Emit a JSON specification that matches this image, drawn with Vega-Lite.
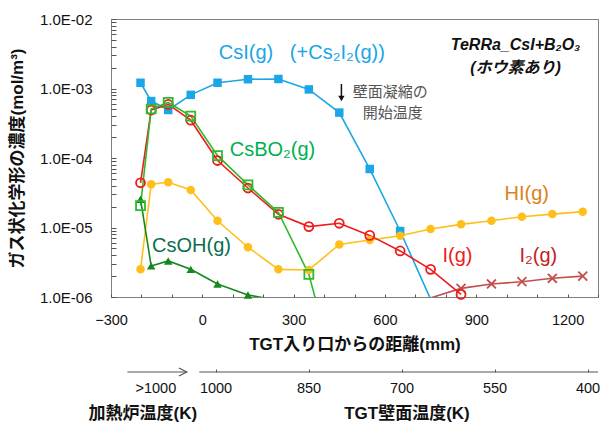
{
  "$schema": "https://vega.github.io/schema/vega-lite/v6.json",
  "padding": {"left": 7, "top": 11, "right": 5, "bottom": 0},
  "spacing": 12,
  "background": "white",
  "config": {
    "view": {"stroke": null},
    "font": "Liberation Sans, Noto Sans CJK JP, sans-serif",
    "axis": {"labelFont": "Liberation Sans, Noto Sans CJK JP, sans-serif", "titleFont": "Liberation Sans, Noto Sans CJK JP, sans-serif", "labelColor": "#111", "titleColor": "#111", "labelOverlap": false, "labelFlush": false, "grid": false}
  },
  "datasets": {
    "series": [
      {"s": "CsI", "x": -203, "v": 1.21e-3}, {"s": "CsI", "x": -168, "v": 6.6e-4}, {"s": "CsI", "x": -112, "v": 4.9e-4}, {"s": "CsI", "x": -38, "v": 8.1e-4},
      {"s": "CsI", "x": 50, "v": 1.21e-3}, {"s": "CsI", "x": 150, "v": 1.36e-3}, {"s": "CsI", "x": 250, "v": 1.37e-3}, {"s": "CsI", "x": 350, "v": 9.7e-4},
      {"s": "CsI", "x": 450, "v": 4.5e-4}, {"s": "CsI", "x": 550, "v": 6.95e-5}, {"s": "CsI", "x": 650, "v": 8.9e-6}, {"s": "CsI", "x": 750, "v": 9.3e-7},
      {"s": "HI", "x": -203, "v": 2.5e-6}, {"s": "HI", "x": -168, "v": 4.2e-5}, {"s": "HI", "x": -112, "v": 4.47e-5}, {"s": "HI", "x": -38, "v": 3.47e-5},
      {"s": "HI", "x": 50, "v": 1.25e-5}, {"s": "HI", "x": 150, "v": 5.2e-6}, {"s": "HI", "x": 250, "v": 2.5e-6}, {"s": "HI", "x": 350, "v": 2.45e-6},
      {"s": "HI", "x": 450, "v": 5.7e-6}, {"s": "HI", "x": 550, "v": 6.6e-6}, {"s": "HI", "x": 650, "v": 7.6e-6}, {"s": "HI", "x": 750, "v": 9.5e-6},
      {"s": "HI", "x": 850, "v": 1.11e-5}, {"s": "HI", "x": 950, "v": 1.25e-5}, {"s": "HI", "x": 1050, "v": 1.43e-5}, {"s": "HI", "x": 1150, "v": 1.56e-5}, {"s": "HI", "x": 1250, "v": 1.69e-5},
      {"s": "CsOH", "x": -203, "v": 2.55e-5}, {"s": "CsOH", "x": -168, "v": 2.8e-6}, {"s": "CsOH", "x": -112, "v": 3.3e-6}, {"s": "CsOH", "x": -38, "v": 2.5e-6},
      {"s": "CsOH", "x": 50, "v": 1.54e-6}, {"s": "CsOH", "x": 150, "v": 1.07e-6}, {"s": "CsOH", "x": 250, "v": 8.9e-7},
      {"s": "I2", "x": 750, "v": 9.7e-7}, {"s": "I2", "x": 850, "v": 1.33e-6}, {"s": "I2", "x": 950, "v": 1.54e-6}, {"s": "I2", "x": 1050, "v": 1.66e-6},
      {"s": "I2", "x": 1150, "v": 1.86e-6}, {"s": "I2", "x": 1250, "v": 2.0e-6},
      {"s": "I", "x": -203, "v": 4.4e-5}, {"s": "I", "x": -168, "v": 4.9e-4}, {"s": "I", "x": -112, "v": 5.9e-4}, {"s": "I", "x": -38, "v": 3.5e-4},
      {"s": "I", "x": 50, "v": 9.2e-5}, {"s": "I", "x": 150, "v": 3.7e-5}, {"s": "I", "x": 250, "v": 1.55e-5}, {"s": "I", "x": 350, "v": 1.03e-5},
      {"s": "I", "x": 450, "v": 1.15e-5}, {"s": "I", "x": 550, "v": 7.7e-6}, {"s": "I", "x": 650, "v": 4.6e-6}, {"s": "I", "x": 750, "v": 2.5e-6}, {"s": "I", "x": 850, "v": 1.09e-6},
      {"s": "CsBO2", "x": -203, "v": 2.06e-5}, {"s": "CsBO2", "x": -168, "v": 5.07e-4}, {"s": "CsBO2", "x": -112, "v": 6.3e-4}, {"s": "CsBO2", "x": -38, "v": 4.0e-4},
      {"s": "CsBO2", "x": 50, "v": 1.08e-4}, {"s": "CsBO2", "x": 150, "v": 4.1e-5}, {"s": "CsBO2", "x": 250, "v": 1.65e-5}, {"s": "CsBO2", "x": 350, "v": 2.12e-6},
      {"s": "CsBO2", "x": 450, "v": 5e-8}
    ],
    "labels": [
      {"x": 54, "v": 3.24e-3, "t": "CsI(g)\u00a0\u00a0\u00a0(+Cs₂I₂(g))", "s": "CsI"},
      {"x": 90, "v": 1.3e-4, "t": "CsBO₂(g)", "s": "CsBO2"},
      {"x": -165, "v": 5.42e-6, "t": "CsOH(g)", "s": "CsOH"},
      {"x": 993, "v": 3.03e-5, "t": "HI(g)", "s": "HI"},
      {"x": 789, "v": 3.89e-6, "t": "I(g)", "s": "I"},
      {"x": 1042, "v": 3.89e-6, "t": "I₂(g)", "s": "I2"}
    ],
    "notes": [
      {"x": 1029, "v": 4.23e-3, "t": "TeRRa_CsI+B₂O₃"},
      {"x": 1029, "v": 1.97e-3, "t": "(ホウ素あり)"}
    ],
    "wall": [
      {"x": 494, "v": 8.9e-4, "t": "壁面凝縮の"},
      {"x": 527, "v": 4.43e-4, "t": "開始温度"}
    ]
  },
  "vconcat": [
    {
      "width": 487,
      "height": 278,
      "view": {"stroke": "#808080"},
      "encoding": {
        "x": {"field": "x", "type": "quantitative",
          "scale": {"domain": [-300, 1300], "nice": false, "zero": false},
          "axis": {"values": [-300, -200, -100, 0, 100, 200, 300, 400, 500, 600, 700, 800, 900, 1000, 1100, 1200, 1300],
            "format": "d", "labelExpr": "datum.value % 300 == 0 ? datum.label : ''",
            "labelFlush": false, "labelOverlap": false, "grid": false,
            "domain": false, "offset": -3, "tickSize": 3, "tickColor": "#555",
            "labelFontSize": 14.5, "labelPadding": 16,
            "title": "TGT入り口からの距離(mm)", "titleFontSize": 17, "titleFontWeight": "bold", "titlePadding": 10}},
        "y": {"field": "v", "type": "quantitative",
          "scale": {"type": "log", "domain": [1e-6, 1e-2], "nice": false},
          "axis": {"values": [1e-6, 2e-6, 3e-6, 4e-6, 5e-6, 6e-6, 7e-6, 8e-6, 9e-6, 1e-5, 2e-5, 3e-5, 4e-5, 5e-5, 6e-5, 7e-5, 8e-5, 9e-5, 1e-4, 2e-4, 3e-4, 4e-4, 5e-4, 6e-4, 7e-4, 8e-4, 9e-4, 1e-3, 2e-3, 3e-3, 4e-3, 5e-3, 6e-3, 7e-3, 8e-3, 9e-3, 1e-2],
            "labelExpr": "abs(log(datum.value)/LN10 - round(log(datum.value)/LN10)) < 0.01 ? '1.0E-0' + (-round(log(datum.value)/LN10)) : ''",
            "labelOverlap": false, "labelFlush": false, "grid": false,
            "domain": false, "offset": -5, "tickSize": 5, "tickColor": "#555",
            "labelFontSize": 15, "labelPadding": 19,
            "title": "ガス状化学形の濃度(mol/m³)", "titleFontSize": 17, "titleFontWeight": "bold", "titlePadding": 13}}
      },
      "layer": [
        {"data": {"name": "series"},
          "mark": {"type": "line", "clip": true, "strokeWidth": 1.6},
          "encoding": {
            "color": {"field": "s", "type": "nominal", "legend": null,
              "scale": {"domain": ["CsI", "HI", "CsOH", "I2", "I", "CsBO2"], "range": ["#1ba6e6", "#ffbf1a", "#14881c", "#c0504d", "#ee1c1c", "#2cbb2c"]}}}},
        {"data": {"name": "series"},
          "transform": [{"filter": "datum.v >= 1e-6 && (datum.s == 'CsI' || datum.s == 'HI' || datum.s == 'CsOH')"}],
          "mark": {"type": "point", "filled": true, "opacity": 1, "size": 72},
          "encoding": {
            "color": {"field": "s", "type": "nominal", "legend": null,
              "scale": {"domain": ["CsI", "HI", "CsOH", "I2", "I", "CsBO2"], "range": ["#1ba6e6", "#ffbf1a", "#14881c", "#c0504d", "#ee1c1c", "#2cbb2c"]}},
            "shape": {"field": "s", "type": "nominal", "legend": null,
              "scale": {"domain": ["CsI", "HI", "CsOH", "I2", "I", "CsBO2"], "range": ["square", "circle", "triangle-up", "M-1,-1L1,1M-1,1L1,-1", "circle", "square"]}}}},
        {"data": {"name": "series"},
          "transform": [{"filter": "datum.v >= 1e-6 && (datum.s == 'I2' || datum.s == 'I' || datum.s == 'CsBO2')"}],
          "mark": {"type": "point", "filled": false, "opacity": 1, "size": 80, "strokeWidth": 1.8},
          "encoding": {
            "color": {"field": "s", "type": "nominal", "legend": null,
              "scale": {"domain": ["CsI", "HI", "CsOH", "I2", "I", "CsBO2"], "range": ["#1ba6e6", "#ffbf1a", "#14881c", "#c0504d", "#ee1c1c", "#2cbb2c"]}},
            "shape": {"field": "s", "type": "nominal", "legend": null,
              "scale": {"domain": ["CsI", "HI", "CsOH", "I2", "I", "CsBO2"], "range": ["square", "circle", "triangle-up", "M-1,-1L1,1M-1,1L1,-1", "circle", "square"]}}}},
        {"data": {"name": "labels"},
          "mark": {"type": "text", "align": "left", "baseline": "middle", "fontSize": 20},
          "encoding": {
            "text": {"field": "t"},
            "color": {"field": "s", "type": "nominal", "legend": null,
              "scale": {"domain": ["CsI", "HI", "CsOH", "I2", "I", "CsBO2"], "range": ["#1ba6e6", "#d98517", "#0b6e50", "#c41e1e", "#ee1c1c", "#00b050"]}}}},
        {"data": {"name": "notes"},
          "mark": {"type": "text", "align": "center", "baseline": "middle", "fontSize": 16, "fontWeight": "bold", "fontStyle": "italic", "color": "#111"},
          "encoding": {"text": {"field": "t"}}},
        {"data": {"name": "wall"},
          "mark": {"type": "text", "align": "left", "baseline": "middle", "fontSize": 15, "color": "#555"},
          "encoding": {"text": {"field": "t"}}},
        {"data": {"values": [{"x": 457, "v": 1.16e-3, "v2": 7.6e-4}]},
          "mark": {"type": "rule", "color": "#111", "strokeWidth": 1.5},
          "encoding": {"y2": {"field": "v2"}}},
        {"data": {"values": [{"x": 457, "v": 7.2e-4}]},
          "mark": {"type": "point", "shape": "triangle-down", "filled": true, "opacity": 1, "color": "#111", "size": 40},
          "encoding": {}}
      ],
      "resolve": {"scale": {"color": "independent"}}
    },
    {
      "width": 487,
      "height": 42,
      "view": {"stroke": null},
      "data": {"values": [{"T": 1000}, {"T": 850}, {"T": 700}, {"T": 550}, {"T": 400}]},
      "layer": [
        {"mark": {"type": "text", "fontSize": 14.5, "baseline": "middle", "color": "#111"},
          "encoding": {
            "x": {"field": "T", "type": "quantitative",
              "scale": {"domain": [383.9, 1169.4], "reverse": true, "nice": false, "zero": false},
              "axis": {"orient": "top", "values": [1000, 850, 700, 550, 400], "labels": false, "domain": false, "grid": false, "ticks": true, "tickSize": 3, "tickColor": "#555", "title": null}},
            "y": {"datum": 0.6, "type": "quantitative", "scale": {"domain": [0, 1], "nice": false, "zero": false}, "axis": null},
            "text": {"field": "T", "type": "quantitative", "format": "d"}}},
        {"data": {"values": [{}]}, "mark": {"type": "rule", "color": "#555", "strokeWidth": 1.2},
          "encoding": {"x": {"datum": 1027, "type": "quantitative"}, "x2": {"datum": 383.9}, "y": {"datum": 1, "type": "quantitative"}}},
        {"data": {"values": [{}]}, "mark": {"type": "rule", "color": "#555", "strokeWidth": 1.2},
          "encoding": {"x": {"datum": 1143, "type": "quantitative"}, "x2": {"datum": 1047}, "y": {"datum": 1, "type": "quantitative"}}},
        {"data": {"values": [{}]}, "mark": {"type": "point", "shape": "M-2,-1L0,0L-2,1", "filled": false, "opacity": 1, "color": "#555", "strokeWidth": 1.2, "size": 64},
          "encoding": {"x": {"datum": 1047, "type": "quantitative"}, "y": {"datum": 1, "type": "quantitative"}}},
        {"data": {"values": [{}]}, "mark": {"type": "text", "fontSize": 14.5, "baseline": "middle", "color": "#111"},
          "encoding": {"x": {"datum": 1097, "type": "quantitative"}, "y": {"datum": 0.6, "type": "quantitative"}, "text": {"value": ">1000"}}},
        {"data": {"values": [{}]}, "mark": {"type": "text", "fontSize": 17, "fontWeight": "bold", "baseline": "middle", "color": "#111"},
          "encoding": {"x": {"datum": 1118, "type": "quantitative"}, "y": {"datum": 0, "type": "quantitative"}, "text": {"value": "加熱炉温度(K)"}}},
        {"data": {"values": [{}]}, "mark": {"type": "text", "fontSize": 17, "fontWeight": "bold", "baseline": "middle", "color": "#111"},
          "encoding": {"x": {"datum": 692, "type": "quantitative"}, "y": {"datum": 0, "type": "quantitative"}, "text": {"value": "TGT壁面温度(K)"}}}
      ]
    }
  ]
}
